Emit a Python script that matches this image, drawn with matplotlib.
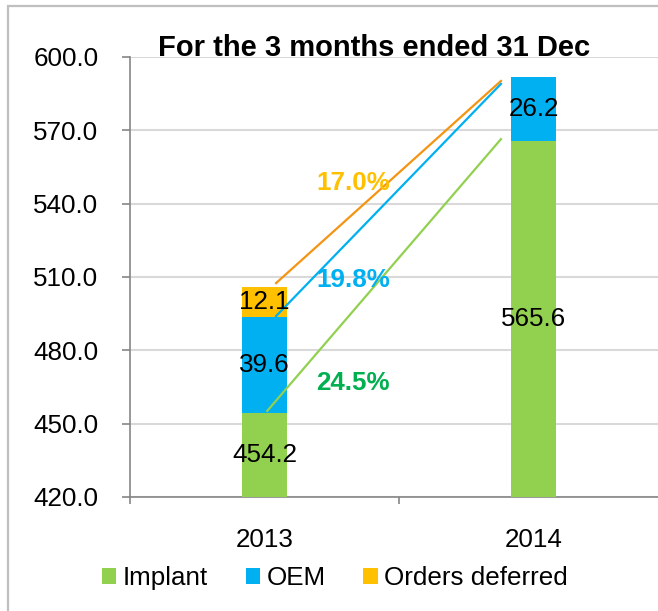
import numpy as np
import matplotlib.pyplot as plt
from matplotlib.patches import Rectangle

years = ['2013', '2014']
implant = [454.2, 565.6]
oem = [39.6, 26.2]
deferred = [12.1, 0.0]
series_names = ['Implant', 'OEM', 'Orders deferred']
colors = ['#92D050', '#00B0F0', '#FFC000']
y_ticks = [420, 450, 480, 510, 540, 570, 600]

plt.rcParams['font.family'] = ['Liberation Sans', 'DejaVu Sans']
FS = 18.7

fig = plt.figure(figsize=(6.58, 6.11), dpi=100)
# outer chart frame (picture is cropped on right and bottom)
fig.patches.append(Rectangle((8 / 658, -0.1), 1.2, 1 - 6 / 611 + 0.1, transform=fig.transFigure,
                             fill=False, edgecolor='#BFBFBF', linewidth=1.6))

ax = fig.add_axes([130 / 658, 114 / 611, 538 / 658, 440 / 611])
x = np.arange(len(years))
w = 0.167
bottom = np.zeros(len(years))
for vals, name, c in zip([implant, oem, deferred], series_names, colors):
    vals = np.array(vals)
    ax.bar(x, vals, w, bottom=bottom, color=c, label=name, zorder=3)
    bottom = bottom + vals

# data labels centred on visible part of segments
ymin, ymax = 420, 600
bottom = np.zeros(len(years))
for vals in [implant, oem, deferred]:
    for i, v in enumerate(vals):
        if v > 0:
            lo = max(bottom[i], ymin)
            hi = bottom[i] + v
            ax.text(x[i], (lo + hi) / 2, f'{v:.1f}', ha='center', va='center',
                    fontsize=FS, color='black', zorder=5)
    bottom = bottom + np.array(vals)

total = np.array(implant) + np.array(oem) + np.array(deferred)
ex_def = np.array(implant) + np.array(oem)

# growth lines
ax.plot([x[0] + 0.043, x[1] - 0.121], [total[0] + 1.6, total[1] - 1.6], color='#F39412', lw=1.6, zorder=4)
ax.plot([x[0] + 0.043, x[1] - 0.121], [ex_def[0] + 0.2, total[1] - 2.8], color='#00B0F0', lw=1.6, zorder=4)
ax.plot([x[0] + 0.01, x[1] - 0.121], [implant[0] + 1.0, implant[1] + 0.8], color='#92D050', lw=1.6, zorder=4)

g_total = (total[1] / total[0] - 1) * 100
g_exdef = (total[1] / ex_def[0] - 1) * 100
g_impl = (implant[1] / implant[0] - 1) * 100
ax.text(0.33, 548.4, f'{g_total:.1f}%', color='#FFC000', fontsize=FS, fontweight='bold',
        ha='center', va='center', zorder=5)
ax.text(0.33, 508.8, f'{g_exdef:.1f}%', color='#00B0F0', fontsize=FS, fontweight='bold',
        ha='center', va='center', zorder=5)
ax.text(0.33, 466.6, f'{g_impl:.1f}%', color='#00B050', fontsize=FS, fontweight='bold',
        ha='center', va='center', zorder=5)

ax.set_xlim(-0.5, 1.5)
ax.set_ylim(ymin, ymax)
ax.set_yticks(y_ticks)
ax.set_yticklabels([f'{t:.1f}' for t in y_ticks], fontsize=FS)
ax.set_xticks(x)
ax.set_xticklabels(years, fontsize=FS)
ax.set_xticks([-0.5, 0.5, 1.5], minor=True)
ax.tick_params(axis='x', which='major', length=0, pad=22)
ax.tick_params(axis='x', which='minor', length=5, width=1.2, color='#868686')
ax.tick_params(axis='y', length=5.8, width=1.2, color='#868686', pad=17)
ax.grid(axis='y', color='#D9D9D9', lw=1.5, zorder=0)
for s in ['top', 'right']:
    ax.spines[s].set_visible(False)
for s in ['left', 'bottom']:
    ax.spines[s].set_color('#868686')
    ax.spines[s].set_linewidth(1.2)

fig.text(374 / 658, 1 - 56 / 611, 'For the 3 months ended 31 Dec', ha='center', va='baseline',
         fontsize=21, fontweight='bold')

h, l = ax.get_legend_handles_labels()
fig.legend(h, l, loc='center', bbox_to_anchor=(335 / 658, 1 - 578 / 611), ncol=3, frameon=False,
           fontsize=FS, handlelength=0.55, handleheight=0.55, handletextpad=0.25,
           columnspacing=1.45, borderpad=0)

fig.savefig('out.png', dpi=100)
